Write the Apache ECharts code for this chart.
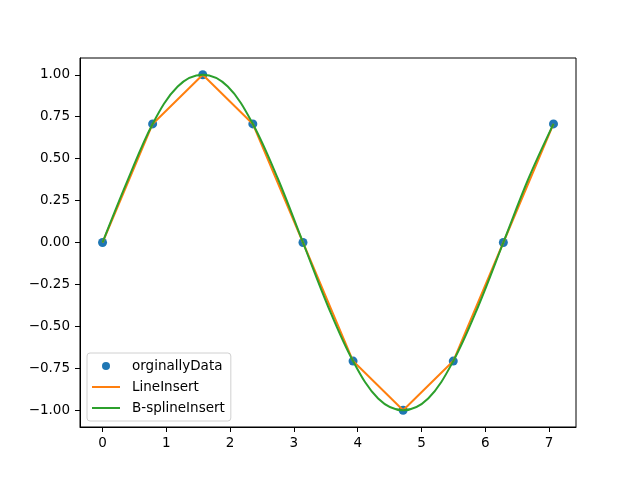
<!DOCTYPE html>
<html>
<head>
<meta charset="utf-8">
<script src="https://cdn.jsdelivr.net/npm/echarts@6/dist/echarts.min.js"></script>
<style>html,body{margin:0;padding:0;background:#fff;}#c{width:640px;height:480px;}</style>
</head>
<body>
<div id="c"></div>
<script>
// original samples
const xValues = [0, 0.785, 1.571, 2.356, 3.142, 3.927, 4.712, 5.498, 6.283, 7.069];
const yValues = [0, 0.707, 1.0, 0.707, 0, -0.707, -1.0, -0.707, 0, 0.707];
// B-spline curve (nodes plus midpoints)
const splineX = [0, 0.393, 0.785, 1.178, 1.571, 1.963, 2.356, 2.749, 3.142, 3.534, 3.927, 4.320, 4.712, 5.105, 5.498, 5.890, 6.283, 6.676, 7.069];
const splineY = [0, 0.37, 0.707, 0.93, 1.0, 0.93, 0.707, 0.38, 0, -0.38, -0.707, -0.93, -1.0, -0.93, -0.707, -0.38, 0, 0.38, 0.707];
const seriesNames = ['orginallyData', 'LineInsert', 'B-splineInsert'];
const xTicks = [0, 1, 2, 3, 4, 5, 6, 7];
const yTicks = [-1.0, -0.75, -0.5, -0.25, 0, 0.25, 0.5, 0.75, 1.0];

const pts = xValues.map((x, i) => [x, yValues[i]]);
const splinePts = splineX.map((x, i) => [x, splineY[i]]);
const font = 'DejaVu Sans';
const lineIcon = 'path://M0,0H28V2H0Z';
const chart = echarts.init(document.getElementById('c'), null, {renderer: 'canvas'});
chart.setOption({
  animation: false,
  backgroundColor: '#fff',
  grid: {left: 80, right: 64, top: 58, bottom: 53, show: true, borderColor: '#000', borderWidth: 1, backgroundColor: 'transparent'},
  xAxis: {
    type: 'value', min: -0.35343, max: 7.42201,
    axisLine: {show: true, onZero: false, lineStyle: {color: '#000', width: 1}},
    axisTick: {show: true, length: 5, lineStyle: {color: '#000'}, customValues: xTicks},
    axisLabel: {color: '#000', fontFamily: font, fontSize: 13.5, margin: 9, customValues: xTicks,
      formatter: v => String(v)},
    splitLine: {show: false}
  },
  yAxis: {
    type: 'value', min: -1.1, max: 1.1,
    axisLine: {show: true, onZero: false, lineStyle: {color: '#000', width: 1}},
    axisTick: {show: true, length: 5, lineStyle: {color: '#000'}, customValues: yTicks},
    axisLabel: {color: '#000', fontFamily: font, fontSize: 13.5, margin: 10, customValues: yTicks,
      formatter: v => v.toFixed(2).replace('-', '\u2212')},
    splitLine: {show: false}
  },
  legend: {
    orient: 'vertical', left: 87, top: 353,
    padding: [6, 6, 6, 5],
    borderColor: '#d0d0d0', borderWidth: 1, borderRadius: 3,
    itemWidth: 28, itemHeight: 8, itemGap: 7,
    symbolKeepAspect: true,
    textStyle: {color: '#000', fontFamily: font, fontSize: 13.5, padding: [0, 0, 0, 7]},
    data: [
      {name: seriesNames[0], icon: 'circle'},
      {name: seriesNames[1], icon: lineIcon},
      {name: seriesNames[2], icon: lineIcon}
    ]
  },
  series: [
    {name: seriesNames[0], type: 'scatter', data: pts, symbol: 'circle', symbolSize: 9,
      itemStyle: {color: '#1f77b4', opacity: 1}, z: 2},
    {name: seriesNames[1], type: 'line', data: pts, symbol: 'none', showSymbol: false,
      lineStyle: {color: '#ff7f0e', width: 2}, itemStyle: {color: '#ff7f0e'}, z: 3},
    {name: seriesNames[2], type: 'line', data: splinePts, symbol: 'none', showSymbol: false, smooth: 0.35,
      lineStyle: {color: '#2ca02c', width: 2}, itemStyle: {color: '#2ca02c'}, z: 4}
  ]
});
</script>
</body>
</html>
